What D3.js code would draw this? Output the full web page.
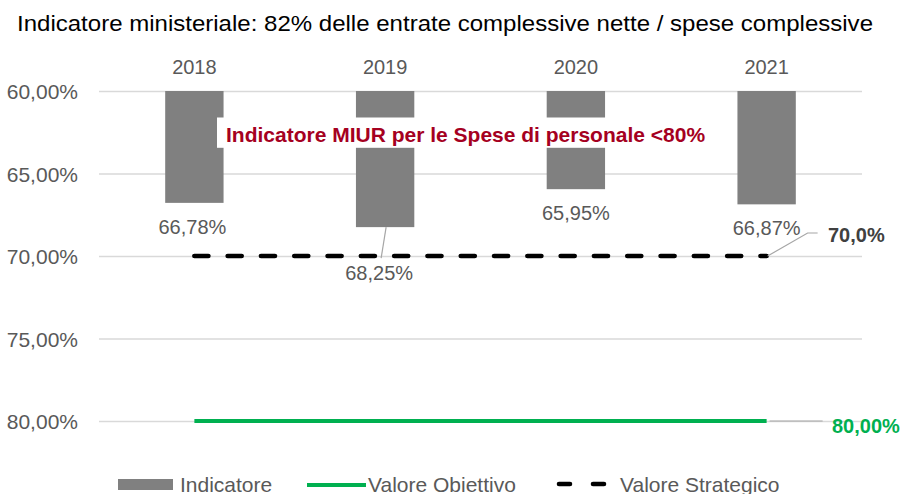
<!DOCTYPE html>
<html>
<head>
<meta charset="utf-8">
<script src="https://cdn.jsdelivr.net/npm/d3@7"></script>
<style>
  html, body { margin: 0; padding: 0; background: #fff; }
  svg { display: block; font-family: "Liberation Sans", Arial, sans-serif; }
</style>
</head>
<body>
<svg id="chart" width="903" height="494"></svg>
<script>
// Data
const years = ["2018", "2019", "2020", "2021"];
const indicatore = [66.78, 68.25, 65.95, 66.87];
const valoreObiettivo = [80, 80, 80, 80];
const valoreStrategico = [70, 70, 70, 70];
const yTicks = [60, 65, 70, 75, 80];
const title = "Indicatore ministeriale: 82% delle entrate complessive nette / spese complessive";
const noteText = "Indicatore MIUR per le Spese di personale <80%";
const legendLabels = ["Indicatore", "Valore Obiettivo", "Valore Strategico"];

const fmt = v => v.toFixed(2).replace(".", ",") + "%";

const svg = d3.select("#chart");

const x = d3.scaleBand()
  .domain(years)
  .range([99, 862])
  .paddingInner(0.694)
  .paddingOuter(0.347);

// Reversed axis: 60% at the top, bars grow downward
const y = d3.scaleLinear().domain([60, 80]).range([91, 421]);
const cx = d => x(d) + x.bandwidth() / 2;

// Title
svg.append("text")
  .attr("x", 17).attr("y", 31)
  .attr("font-size", 22.5).attr("fill", "#000")
  .attr("textLength", 856).attr("lengthAdjust", "spacingAndGlyphs")
  .text(title);

// Gridlines
svg.append("g")
  .attr("transform", "translate(99,0)")
  .call(d3.axisLeft(y).tickValues(yTicks).tickSize(-763).tickFormat(""))
  .call(g => g.select(".domain").remove())
  .call(g => g.selectAll("line").attr("stroke", "#D9D9D9").attr("stroke-width", 1.3));

// Y axis labels
svg.append("g")
  .attr("transform", "translate(78,0)")
  .call(d3.axisLeft(y).tickValues(yTicks).tickSize(0).tickPadding(0).tickFormat(fmt))
  .call(g => g.select(".domain").remove())
  .call(g => g.selectAll("text")
    .attr("font-size", 21).attr("fill", "#595959")
    .attr("font-family", "Liberation Sans, Arial, sans-serif")
    .attr("dy", "0.36em"));

// Category labels on top
svg.append("g")
  .attr("transform", "translate(0,74)")
  .call(d3.axisTop(x).tickSize(0).tickPadding(0))
  .call(g => g.select(".domain").remove())
  .call(g => g.selectAll("text")
    .attr("font-size", 20).attr("fill", "#595959")
    .attr("font-family", "Liberation Sans, Arial, sans-serif")
    .attr("dy", 0));

// Bars from 60% down to the value
svg.append("g").selectAll("rect")
  .data(years)
  .join("rect")
  .attr("x", d => x(d))
  .attr("y", y(60))
  .attr("width", x.bandwidth())
  .attr("height", (d, i) => y(indicatore[i]) - y(60))
  .attr("fill", "#808080");

// Target line (80%)
const line = d3.line().x(d => cx(d[0])).y(d => y(d[1]));
svg.append("path")
  .datum(years.map((d, i) => [d, valoreObiettivo[i]]))
  .attr("d", line)
  .attr("fill", "none").attr("stroke", "#00B050").attr("stroke-width", 4);

// Strategic line (70%)
svg.append("path")
  .datum(years.map((d, i) => [d, valoreStrategico[i]]))
  .attr("d", line)
  .attr("fill", "none").attr("stroke", "#000").attr("stroke-width", 4.6)
  .attr("stroke-linecap", "round")
  .attr("stroke-dasharray", "14 19.3");

// Note box over the bars
const note = svg.append("g");
note.append("rect")
  .attr("x", 217).attr("y", 117.5)
  .attr("width", 502).attr("height", 30.3)
  .attr("fill", "#fff");
note.append("text")
  .attr("x", 226).attr("y", 142.3)
  .attr("font-size", 21).attr("font-weight", "bold").attr("fill", "#A50021")
  .text(noteText);

// Data labels for the bars
const labelDrop = [31, 53, 31, 31];
const labelShift = [-2, -6, 0, 0];
svg.append("g").selectAll("text")
  .data(years)
  .join("text")
  .attr("x", (d, i) => cx(d) + labelShift[i])
  .attr("y", (d, i) => y(indicatore[i]) + labelDrop[i])
  .attr("text-anchor", "middle")
  .attr("font-size", 20).attr("fill", "#595959")
  .text((d, i) => fmt(indicatore[i]));

// Leader for the 2019 label
svg.append("line")
  .attr("x1", cx("2019") + 1).attr("y1", y(indicatore[1]))
  .attr("x2", cx("2019") - 4).attr("y2", y(indicatore[1]) + 31)
  .attr("stroke", "#A6A6A6").attr("stroke-width", 1.2);

// Label for the strategic value
const sx = cx("2021"), sy = y(valoreStrategico[3]);
svg.append("polyline")
  .attr("points", [[sx + 1, sy], [sx + 41, sy - 23], [sx + 51, sy - 23]].map(p => p.join(",")).join(" "))
  .attr("fill", "none").attr("stroke", "#A6A6A6").attr("stroke-width", 1.2);
svg.append("text")
  .attr("x", 828).attr("y", sy - 14.5)
  .attr("font-size", 20).attr("font-weight", "bold").attr("fill", "#404040")
  .text(valoreStrategico[3].toFixed(1).replace(".", ",") + "%");

// Label for the target value
const ty = y(valoreObiettivo[3]);
svg.append("line")
  .attr("x1", sx + 3).attr("x2", sx + 56)
  .attr("y1", ty).attr("y2", ty)
  .attr("stroke", "#A6A6A6").attr("stroke-width", 1.2);
svg.append("text")
  .attr("x", 832).attr("y", ty + 11.5)
  .attr("font-size", 20).attr("font-weight", "bold").attr("fill", "#00B050")
  .text(fmt(valoreObiettivo[3]));

// Legend
const leg = svg.append("g").attr("font-size", 21).attr("fill", "#595959");
leg.append("rect").attr("x", 118).attr("y", 479).attr("width", 55).attr("height", 11).attr("fill", "#808080");
leg.append("text").attr("x", 180).attr("y", 491.5).text(legendLabels[0]);
leg.append("line").attr("x1", 307).attr("x2", 366).attr("y1", 485).attr("y2", 485)
  .attr("stroke", "#00B050").attr("stroke-width", 4);
leg.append("text").attr("x", 368).attr("y", 491.5).text(legendLabels[1]);
leg.append("line").attr("x1", 559).attr("x2", 607).attr("y1", 484).attr("y2", 484)
  .attr("stroke", "#000").attr("stroke-width", 4.6).attr("stroke-linecap", "round")
  .attr("stroke-dasharray", "11 23");
leg.append("text").attr("x", 620).attr("y", 491.5).text(legendLabels[2]);
</script>
</body>
</html>
